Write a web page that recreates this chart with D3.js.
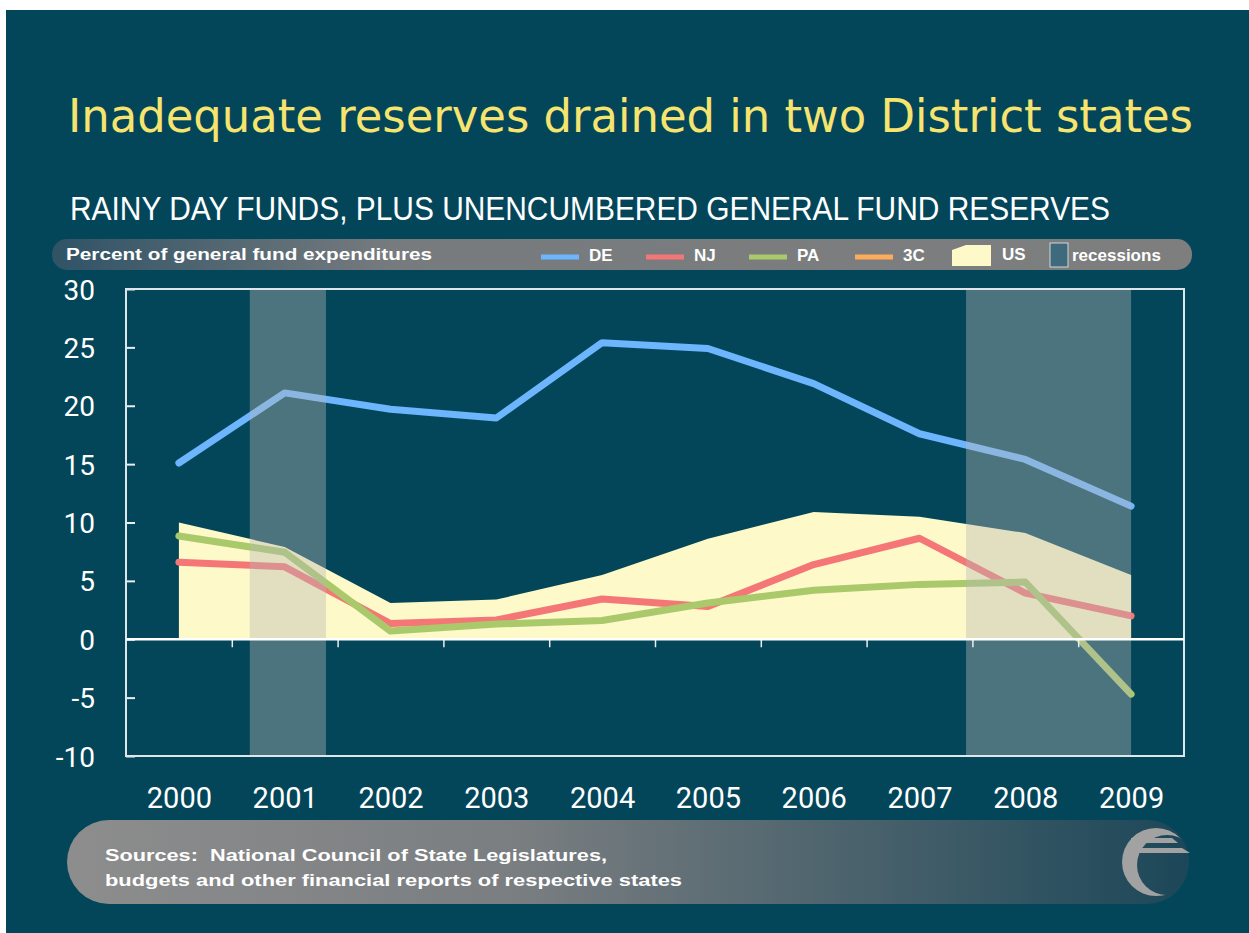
<!DOCTYPE html>
<html>
<head>
<meta charset="utf-8">
<script src="https://cdn.jsdelivr.net/npm/d3@7"></script>
<style>
  html, body { margin: 0; padding: 0; background: #fff; }
  svg { display: block; }
</style>
</head>
<body>
<svg id="chart" width="1249" height="933"></svg>
<script>
// values, percent of general fund expenditures
const years = [2000, 2001, 2002, 2003, 2004, 2005, 2006, 2007, 2008, 2009]
const deValues = [15.1, 21.1, 19.7, 18.95, 25.4, 24.9, 21.9, 17.6, 15.4, 11.4]
const njValues = [6.6, 6.2, 1.35, 1.65, 3.45, 2.8, 6.4, 8.65, 3.95, 2.0]
const paValues = [8.85, 7.45, 0.7, 1.3, 1.6, 3.1, 4.2, 4.7, 4.9, -4.7]
const usValues = [10.0, 7.9, 3.1, 3.4, 5.5, 8.6, 10.9, 10.5, 9.1, 5.5]
const recessions = [[2000.67, 2001.39], [2007.44, 2009.0]]
const yTicks = [-10, -5, 0, 5, 10, 15, 20, 25, 30]
const legendLabels = ['DE', 'NJ', 'PA', '3C']
const legendColors = ['#6db5fd', '#f47676', '#a9c96b', '#fdac5b']

const svg = d3.select('#chart')
const bg = '#03465a'

const defs = svg.append('defs')
const g1 = defs.append('linearGradient').attr('id', 'legendGrad')
g1.append('stop').attr('offset', '0%').attr('stop-color', '#2f5366')
g1.append('stop').attr('offset', '30%').attr('stop-color', '#777b7e')
g1.append('stop').attr('offset', '100%').attr('stop-color', '#7e7e7e')
const g2 = defs.append('linearGradient').attr('id', 'srcGrad')
g2.append('stop').attr('offset', '0%').attr('stop-color', '#8d8d8d')
g2.append('stop').attr('offset', '40%').attr('stop-color', '#7a7e81')
g2.append('stop').attr('offset', '100%').attr('stop-color', '#1c4758')

// background panel
svg.append('rect').attr('x', 6).attr('y', 10).attr('width', 1243).attr('height', 923).attr('fill', bg)

svg.append('text')
    .attr('x', 68).attr('y', 132)
    .attr('textLength', 1125).attr('lengthAdjust', 'spacingAndGlyphs')
    .style('font-family', 'DejaVu Sans, Verdana, sans-serif')
    .style('font-size', '46px')
    .attr('fill', '#f6e46f')
    .text('Inadequate reserves drained in two District states')

svg.append('text')
    .attr('x', 70).attr('y', 220)
    .attr('textLength', 1040).attr('lengthAdjust', 'spacingAndGlyphs')
    .style('font-family', 'Liberation Sans, Arial, sans-serif')
    .style('font-size', '33px')
    .attr('fill', '#ffffff')
    .text('RAINY DAY FUNDS, PLUS UNENCUMBERED GENERAL FUND RESERVES')

// legend bar
svg.append('rect').attr('x', 52).attr('y', 239).attr('width', 1140).attr('height', 31)
    .attr('rx', 15).attr('fill', 'url(#legendGrad)')
svg.append('text')
    .attr('x', 66).attr('y', 260)
    .attr('textLength', 366).attr('lengthAdjust', 'spacingAndGlyphs')
    .style('font-family', 'Liberation Sans, Arial, sans-serif')
    .style('font-size', '16px').style('font-weight', 'bold')
    .attr('fill', '#fff')
    .text('Percent of general fund expenditures')

const legendX = [541, 646, 749, 855]
const leg = svg.selectAll('g.leg').data(legendLabels).enter().append('g').attr('class', 'leg')
leg.append('line')
    .attr('x1', (d, i) => legendX[i]).attr('x2', (d, i) => legendX[i] + 38)
    .attr('y1', 257).attr('y2', 257)
    .attr('stroke', (d, i) => legendColors[i]).attr('stroke-width', 5)
leg.append('text')
    .attr('x', (d, i) => legendX[i] + 48).attr('y', 261)
    .style('font-family', 'Liberation Sans, Arial, sans-serif')
    .style('font-size', '17px').style('font-weight', 'bold')
    .attr('fill', '#fff')
    .text(d => d)

// US swatch with a folded corner
svg.append('path')
    .attr('d', 'M952,250 L966,245 L991,245 L991,266 L952,266 Z')
    .attr('fill', '#fdf9c9')
svg.append('text').attr('x', 1002).attr('y', 260)
    .style('font-family', 'Liberation Sans, Arial, sans-serif')
    .style('font-size', '17px').style('font-weight', 'bold')
    .attr('fill', '#fff').text('US')
svg.append('rect').attr('x', 1050).attr('y', 243).attr('width', 18).attr('height', 24)
    .attr('fill', '#3f6a7c').attr('stroke', '#cfd8dc').attr('stroke-width', 1)
svg.append('text').attr('x', 1072).attr('y', 261)
    .style('font-family', 'Liberation Sans, Arial, sans-serif')
    .style('font-size', '17px').style('font-weight', 'bold')
    .attr('fill', '#fff').text('recessions')

// scales
const x = d3.scaleLinear().domain([1999.5, 2009.5]).range([126, 1184])
const y = d3.scaleLinear().domain([-10, 30]).range([756, 289])

const plot = svg.append('g')

// US area
plot.append('path')
    .datum(years)
    .attr('fill', '#fdf9c9')
    .attr('d', d3.area()
        .x(d => x(d))
        .y0(y(0))
        .y1((d, i) => y(usValues[i])))

const series = [
    { values: njValues, color: '#f47676' },
    { values: paValues, color: '#a9c96b' },
    { values: deValues, color: '#6db5fd' }
]
const line = d3.line().x(d => x(d[0])).y(d => y(d[1]))
plot.selectAll('path.series').data(series).enter().append('path')
    .attr('class', 'series')
    .attr('d', s => line(years.map((yr, i) => [yr, s.values[i]])))
    .attr('fill', 'none')
    .attr('stroke', s => s.color)
    .attr('stroke-width', 7)
    .attr('stroke-linecap', 'round')
    .attr('stroke-linejoin', 'round')

// recession shading sits over the lines
plot.selectAll('rect.rec').data(recessions).enter().append('rect')
    .attr('class', 'rec')
    .attr('x', d => x(d[0]))
    .attr('width', d => x(d[1]) - x(d[0]))
    .attr('y', y(30))
    .attr('height', y(-10) - y(30))
    .attr('fill', 'rgb(184,184,182)')
    .attr('fill-opacity', 0.4)

// axes
const yAxis = svg.append('g')
    .attr('transform', 'translate(126,0)')
    .call(d3.axisLeft(y).tickValues(yTicks).tickSizeInner(-9).tickSizeOuter(0).tickPadding(31)
        .tickFormat(d => String(d)))
yAxis.select('.domain').remove()
yAxis.selectAll('line').attr('stroke', '#e8eef0').attr('stroke-width', 2)
yAxis.selectAll('text')
    .style('font-family', 'Roboto, sans-serif').style('font-size', '28px')
    .attr('fill', '#fff').attr('dy', '0.36em')

const xTicks = svg.append('g')
    .attr('transform', 'translate(0,' + y(0) + ')')
    .call(d3.axisBottom(x).tickValues(years.slice(0, -1).map(d => d + 0.5)).tickSize(8).tickFormat(''))
xTicks.select('.domain').remove()
xTicks.selectAll('line').attr('stroke', '#e8eef0').attr('stroke-width', 1.5)

const xLabels = svg.append('g')
    .attr('transform', 'translate(0,756)')
    .call(d3.axisBottom(x).tickValues(years).tickSize(0).tickPadding(31).tickFormat(d3.format('d')))
xLabels.select('.domain').remove()
xLabels.selectAll('text')
    .style('font-family', 'Roboto, sans-serif').style('font-size', '29px')
    .attr('fill', '#fff')

// frame and zero line
svg.append('rect').attr('x', 126).attr('y', 289).attr('width', 1058).attr('height', 467)
    .attr('fill', 'none').attr('stroke', '#dfe6ea').attr('stroke-width', 2)
svg.append('line').attr('x1', 126).attr('x2', 1184).attr('y1', y(0)).attr('y2', y(0))
    .attr('stroke', '#fff').attr('stroke-width', 2.5)

// sources box
svg.append('rect').attr('x', 67).attr('y', 820).attr('width', 1122).attr('height', 84)
    .attr('rx', 42).attr('fill', 'url(#srcGrad)')
svg.append('text').attr('x', 105).attr('y', 861)
    .style('font-family', 'Liberation Sans, Arial, sans-serif')
    .style('font-size', '17px').style('font-weight', 'bold')
    .style('white-space', 'pre')
    .attr('fill', '#fff')
    .attr('textLength', 502).attr('lengthAdjust', 'spacingAndGlyphs')
    .text('Sources:  National Council of State Legislatures,')
svg.append('text').attr('x', 105).attr('y', 886)
    .style('font-family', 'Liberation Sans, Arial, sans-serif')
    .style('font-size', '17px').style('font-weight', 'bold')
    .attr('fill', '#fff')
    .attr('textLength', 577).attr('lengthAdjust', 'spacingAndGlyphs')
    .text('budgets and other financial reports of respective states')

// logo
const mask = defs.append('mask').attr('id', 'logoMask')
mask.append('rect').attr('x', 1100).attr('y', 810).attr('width', 120).attr('height', 100).attr('fill', '#000')
mask.append('circle').attr('cx', 1156).attr('cy', 862).attr('r', 34).attr('fill', '#fff')
mask.append('circle').attr('cx', 1167).attr('cy', 865).attr('r', 30).attr('fill', '#000')
svg.append('rect').attr('x', 1100).attr('y', 810).attr('width', 120).attr('height', 100)
    .attr('fill', '#a2a2a2').attr('mask', 'url(#logoMask)')
svg.append('path').attr('d', 'M1131,838 L1172,838 L1178,843 L1131,843 Z').attr('fill', '#a2a2a2')
svg.append('path').attr('d', 'M1128,848 L1182,848 L1190,853 L1128,853 Z').attr('fill', '#a2a2a2')
</script>
</body>
</html>
